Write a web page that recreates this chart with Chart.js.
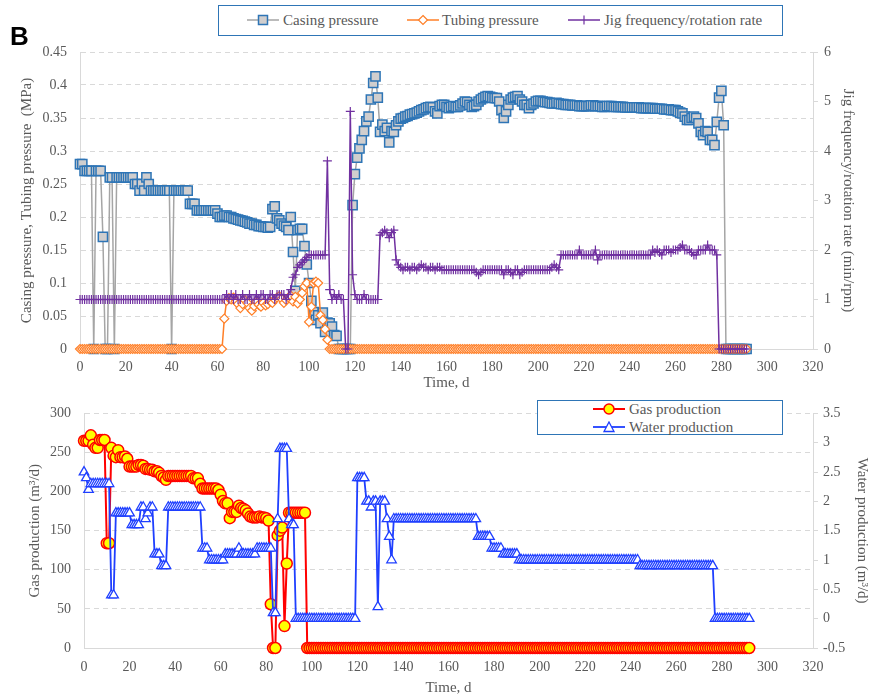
<!DOCTYPE html>
<html>
<head>
<meta charset="utf-8">
<script src="https://cdn.jsdelivr.net/npm/chart.js@4.4.0/dist/chart.umd.min.js"></script>
<style>
body{margin:0;background:#fff;width:875px;height:697px;position:relative;overflow:hidden;font-family:'Liberation Serif',serif;}
canvas{position:absolute;left:0;}
#topChart{top:0;}
#botChart{top:392px;}
.box{position:absolute;box-sizing:border-box;border:1.5px solid #2e75b6;background:#fff;}
.item{position:absolute;color:#595959;font-size:15px;line-height:16px;white-space:nowrap;}
.item svg{position:absolute;top:2px;}
#tag{position:absolute;left:10px;top:21px;font-family:'Liberation Sans',sans-serif;font-weight:bold;font-size:26px;color:#000;}
</style>
</head>
<body>
<canvas id="topChart" width="875" height="392"></canvas>
<canvas id="botChart" width="875" height="305"></canvas>
<div id="tag">B</div>

<div class="box" style="left:218px;top:5px;width:565px;height:31px;"></div>
<div class="item" style="left:247px;top:12px;padding-left:36px;">
  <svg width="32" height="12" style="left:0"><line x1="0" y1="6" x2="32" y2="6" stroke="#a5a5a5" stroke-width="1.5"/><rect x="11.5" y="1.5" width="9" height="9" fill="#d0cece" stroke="#2e75b6" stroke-width="1.5"/></svg>Casing pressure</div>
<div class="item" style="left:407px;top:12px;padding-left:35px;">
  <svg width="32" height="12" style="left:0"><line x1="0" y1="6" x2="32" y2="6" stroke="#ff7f27" stroke-width="1.5"/><polygon points="16,1.5 20.5,6 16,10.5 11.5,6" fill="#fff" stroke="#ff7f27" stroke-width="1.2"/></svg>Tubing pressure</div>
<div class="item" style="left:568px;top:12px;padding-left:36px;">
  <svg width="32" height="12" style="left:0"><line x1="0" y1="6" x2="32" y2="6" stroke="#7030a0" stroke-width="1.5"/><line x1="16" y1="1.5" x2="16" y2="10.5" stroke="#7030a0" stroke-width="1.2"/></svg>Jig frequency/rotation rate</div>

<div class="box" style="left:537px;top:400px;width:246px;height:35px;"></div>
<div class="item" style="left:593px;top:401px;padding-left:36px;">
  <svg width="32" height="12" style="left:0"><line x1="0" y1="6" x2="32" y2="6" stroke="#ff0000" stroke-width="2"/><circle cx="16" cy="6" r="5" fill="#ffff00" stroke="#ff0000" stroke-width="1.5"/></svg>Gas production</div>
<div class="item" style="left:593px;top:419px;padding-left:36px;">
  <svg width="32" height="12" style="left:0"><line x1="0" y1="6" x2="32" y2="6" stroke="#1f3fff" stroke-width="1.8"/><polygon points="16,1 21,10.5 11,10.5" fill="#fff" stroke="#1f3fff" stroke-width="1.3"/></svg>Water production</div>

<script>
// one value per day, starting at day 0
var casing = [
  0.28,0.28,0.27,0.27,0.27,0.27,0,0.27,0.27,0.27,
  0.17,0,0,0.26,0.26,0,0.26,0.26,0.26,0.26,
  0.26,0.26,0.26,0.26,0.25,0.25,0.24,0.25,0.24,0.26,
  0.25,0.24,0.24,0.24,0.24,0.24,0.24,0.24,0.24,0.24,
  0,0.24,0.24,0.24,0.24,0.24,0.24,0.24,0.22,0.22,
  0.22,0.21,0.21,0.21,0.21,0.21,0.21,0.21,0.21,0.21,
  0.205,0.2,0.2,0.202,0.202,0.2,0.2,0.198,0.197,0.196,
  0.195,0.194,0.193,0.192,0.19,0.19,0.188,0.188,0.186,0.186,
  0.185,0.185,0.184,0.185,0.212,0.216,0.198,0.195,0.19,0.187,
  0.185,0.18,0.2,0.147,0.088,0.18,0.182,0.182,0.156,0.128,
  0.1,0.073,0.056,0.044,0.051,0.039,0.055,0.026,0.04,0.039,
  0.034,0.021,0.02,0,0,0,0,0,0,0.218,
  0.265,0.29,0.304,0.317,0.33,0.345,0.352,0.378,0.403,0.413,
  0.381,0.329,0.34,0.33,0.335,0.313,0.33,0.329,0.339,0.345,
  0.349,0.35,0.352,0.353,0.355,0.356,0.357,0.358,0.36,0.362,
  0.363,0.365,0.366,0.367,0.366,0.36,0.357,0.368,0.37,0.37,
  0.367,0.365,0.367,0.368,0.367,0.367,0.369,0.372,0.375,0.374,
  0.37,0.367,0.368,0.37,0.375,0.378,0.38,0.382,0.383,0.382,
  0.381,0.38,0.38,0.375,0.362,0.35,0.36,0.37,0.378,0.381,
  0.382,0.383,0.378,0.375,0.37,0.37,0.365,0.37,0.372,0.375,
  0.376,0.376,0.375,0.374,0.374,0.373,0.372,0.372,0.373,0.372,
  0.371,0.371,0.37,0.37,0.37,0.369,0.369,0.369,0.368,0.368,
  0.368,0.368,0.368,0.369,0.369,0.368,0.368,0.368,0.367,0.367,
  0.368,0.368,0.368,0.367,0.367,0.367,0.367,0.367,0.366,0.366,
  0.366,0.366,0.366,0.366,0.366,0.365,0.365,0.365,0.365,0.365,
  0.365,0.364,0.364,0.364,0.364,0.363,0.363,0.363,0.362,0.362,
  0.362,0.36,0.358,0.357,0.352,0.347,0.347,0.35,0.352,0.35,
  0.342,0.329,0.324,0.33,0.329,0.317,0.317,0.309,0.344,0.381,
  0.391,0.339,0,0,0,0,0,0,0,0,
  0,0
];

var tubing = [
  0,0,0,0,0,0,0,0,0,0,
  0,0,0,0,0,0,0,0,0,0,
  0,0,0,0,0,0,0,0,0,0,
  0,0,0,0,0,0,0,0,0,0,
  0,0,0,0,0,0,0,0,0,0,
  0,0,0,0,0,0,0,0,0,0,
  0,0,0,0.046,0.073,0.077,0.075,0.078,0.072,0.068,
  0.062,0.068,0.074,0.07,0.062,0.058,0.065,0.072,0.067,0.064,
  0.07,0.066,0.068,0.072,0.07,0.075,0.078,0.08,0.076,0.07,
  0.074,0.078,0.081,0.072,0.079,0.069,0.075,0.085,0.095,0.1,
  0.041,0.064,0.1,0.102,0.1,0.051,0.044,0.03,0.014,0,
  0,0,0,0,0,0,0,0,0,0,
  0,0,0,0,0,0,0,0,0,0,
  0,0,0,0,0,0,0,0,0,0,
  0,0,0,0,0,0,0,0,0,0,
  0,0,0,0,0,0,0,0,0,0,
  0,0,0,0,0,0,0,0,0,0,
  0,0,0,0,0,0,0,0,0,0,
  0,0,0,0,0,0,0,0,0,0,
  0,0,0,0,0,0,0,0,0,0,
  0,0,0,0,0,0,0,0,0,0,
  0,0,0,0,0,0,0,0,0,0,
  0,0,0,0,0,0,0,0,0,0,
  0,0,0,0,0,0,0,0,0,0,
  0,0,0,0,0,0,0,0,0,0,
  0,0,0,0,0,0,0,0,0,0,
  0,0,0,0,0,0,0,0,0,0,
  0,0,0,0,0,0,0,0,0,0,
  0,0,0,0,0,0,0,0,0,0,
  0,0
];

var jig = [
  1,1,1,1,1,1,1,1,1,1,
  1,1,1,1,1,1,1,1,1,1,
  1,1,1,1,1,1,1,1,1,1,
  1,1,1,1,1,1,1,1,1,1,
  1,1,1,1,1,1,1,1,1,1,
  1,1,1,1,1,1,1,1,1,1,
  1,1,1,1,1.1,1,1.1,1,1.1,1,
  1,1.1,1,1,1.1,1,1,1.1,1,1.1,
  1.1,1,1,1.1,1.1,1,1.1,1.1,1.1,1.1,
  1,1.1,1.2,1.45,1.5,1.65,1.7,1.75,1.8,1.85,
  1.9,1.9,1.9,1.9,1.9,1.9,1.9,1.9,3.8,1.2,
  1,1.1,1,1.1,1,1,0,0,4.8,1.5,
  1.1,1,1,1,1.1,1,1,1,1,1,
  1,2.3,2.35,2.4,2.35,2.25,2.35,2.4,1.8,1.7,
  1.65,1.6,1.65,1.65,1.6,1.65,1.65,1.6,1.65,1.7,
  1.65,1.65,1.6,1.65,1.65,1.6,1.65,1.65,1.6,1.6,
  1.6,1.6,1.6,1.6,1.6,1.6,1.6,1.6,1.6,1.6,
  1.6,1.6,1.6,1.55,1.5,1.55,1.6,1.6,1.6,1.6,
  1.6,1.6,1.6,1.6,1.6,1.5,1.6,1.6,1.55,1.5,
  1.6,1.6,1.5,1.55,1.6,1.6,1.6,1.6,1.6,1.6,
  1.6,1.6,1.6,1.6,1.6,1.6,1.65,1.7,1.65,1.6,
  1.9,1.9,1.9,1.9,1.9,1.9,1.9,1.9,2,1.9,
  1.9,1.9,1.9,1.9,1.9,2,1.8,1.9,1.9,1.9,
  1.9,1.9,1.9,1.9,1.9,1.9,1.9,1.9,1.9,1.9,
  1.9,1.9,1.9,1.9,1.9,1.9,1.9,1.9,1.9,1.9,
  2,1.95,2,1.95,1.9,2,2,2,1.95,2,
  2,2,2.05,2.1,2,2,2,1.95,1.9,1.9,
  2,2,2,2,2.1,2,2,2,1.9,0,
  0,0,0,0,0,0,0,0,0,0,
  0,0
];

var gas = [
  265,265,265,272,260,256,256,266,266,266,
  134,134,256,246,244,253,244,244,245,242,
  232,232,232,232,234,234,233,229,229,228,
  228,226,226,224,220,218,215,220,220,220,
  220,220,220,220,220,220,220,220,217,217,
  217,210,204,204,204,204,204,204,204,202,
  196,188,185,185,166,174,174,174,182,179,
  178,176,172,168,167,167,167,168,167,167,
  166,163,56,0,0,144,150,154,28,108,
  173,173,173,173,173,173,173,173,0,0,
  0,0,0,0,0,0,0,0,0,0,
  0,0,0,0,0,0,0,0,0,0,
  0,0,0,0,0,0,0,0,0,0,
  0,0,0,0,0,0,0,0,0,0,
  0,0,0,0,0,0,0,0,0,0,
  0,0,0,0,0,0,0,0,0,0,
  0,0,0,0,0,0,0,0,0,0,
  0,0,0,0,0,0,0,0,0,0,
  0,0,0,0,0,0,0,0,0,0,
  0,0,0,0,0,0,0,0,0,0,
  0,0,0,0,0,0,0,0,0,0,
  0,0,0,0,0,0,0,0,0,0,
  0,0,0,0,0,0,0,0,0,0,
  0,0,0,0,0,0,0,0,0,0,
  0,0,0,0,0,0,0,0,0,0,
  0,0,0,0,0,0,0,0,0,0,
  0,0,0,0,0,0,0,0,0,0,
  0,0,0,0,0,0,0,0,0,0,
  0,0,0,0,0,0,0,0,0,0,
  0,0,0
];

var water = [
  2.5,2.4,2.2,2.3,2.3,2.3,2.3,2.3,2.3,2.3,
  2.3,2.3,0.4,0.4,1.8,1.8,1.8,1.8,1.8,1.8,
  1.8,1.6,1.6,1.6,1.6,1.9,1.9,1.7,1.8,1.9,
  1.9,1.1,1.1,1.1,0.9,0.9,0.9,1.9,1.9,1.9,
  1.9,1.9,1.9,1.9,1.9,1.9,1.9,1.9,1.9,1.9,
  1.9,1.9,1.2,1.2,1.2,1,1,1,1,1,
  1,1,1.1,1.1,1.1,1.1,1.1,1.1,1.2,1.1,
  1.1,1.1,1.1,1.1,1.1,1.1,1.2,1.2,1.2,1.2,
  1.2,1.2,1.2,0.1,0.1,1.7,2.9,2.9,2.9,2.9,
  1.7,1.6,1.6,0,0,0,0,0,0,0,
  0,0,0,0,0,0,0,0,0,0,
  0,0,0,0,0,0,0,0,0,0,
  2.4,2.4,2.4,2.4,2,2,1.9,2,2,0.2,
  2,2,2,1.7,1.4,1,1.7,1.7,1.7,1.7,
  1.7,1.7,1.7,1.7,1.7,1.7,1.7,1.7,1.7,1.7,
  1.7,1.7,1.7,1.7,1.7,1.7,1.7,1.7,1.7,1.7,
  1.7,1.7,1.7,1.7,1.7,1.7,1.7,1.7,1.7,1.7,
  1.7,1.7,1.7,1.4,1.4,1.4,1.4,1.4,1.4,1.2,
  1.2,1.2,1.2,1.2,1.1,1.1,1.1,1.1,1.1,1.1,
  1.1,1,1,1,1,1,1,1,1,1,
  1,1,1,1,1,1,1,1,1,1,
  1,1,1,1,1,1,1,1,1,1,
  1,1,1,1,1,1,1,1,1,1,
  1,1,1,1,1,1,1,1,1,1,
  1,1,1,1,0.9,0.9,0.9,0.9,0.9,0.9,
  0.9,0.9,0.9,0.9,0.9,0.9,0.9,0.9,0.9,0.9,
  0.9,0.9,0.9,0.9,0.9,0.9,0.9,0.9,0.9,0.9,
  0.9,0.9,0.9,0.9,0.9,0.9,0.9,0,0,0,
  0,0,0,0,0,0,0,0,0,0,
  0,0,0
];

var xTicks = {min: 0, max: 320, step: 20};
var tickColor = '#595959';
var lineGray = '#d9d9d9';
var serif = 'Liberation Serif';

// turn a per-day array into {x, y} points
function byDay(arr) {
	return arr.map(function(v, i) { return {x: i, y: v}; });
}

// plain number labels like Excel: 0.4 not 0.40
function plain(v) {
	return String(Math.round(v * 1000) / 1000);
}

function xAxis(h, pad, titlePad) {
	return {
		type: 'linear', min: xTicks.min, max: xTicks.max,
		ticks: {stepSize: xTicks.step, color: tickColor, padding: pad, font: {family: serif, size: 14}, callback: plain},
		grid: {display: false},
		border: {color: lineGray, width: 1},
		title: {display: true, text: 'Time, d', color: tickColor, font: {family: serif, size: 15}, padding: {top: 0, bottom: titlePad}},
		afterFit: function(s) { s.height = h; }
	};
}

// top chart: pressures + jig frequency
new Chart(document.getElementById('topChart'), {
	type: 'line',
	data: {
		datasets: [
			{label: 'Jig frequency/rotation rate', data: byDay(jig), yAxisID: 'y1', order: 1,
			 borderColor: '#7030a0', borderWidth: 1.5, pointStyle: 'cross', pointRadius: 4.5,
			 pointBorderColor: '#7030a0', pointBorderWidth: 1.2, clip: false},
			{label: 'Tubing pressure', data: byDay(tubing), yAxisID: 'y', order: 2,
			 borderColor: '#ff7f27', borderWidth: 1.5, pointStyle: 'rectRot', pointRadius: 4.5,
			 pointBackgroundColor: '#ffffff', pointBorderColor: '#ff7f27', pointBorderWidth: 1.2, clip: false},
			{label: 'Casing pressure', data: byDay(casing), yAxisID: 'y', order: 3,
			 borderColor: '#a5a5a5', borderWidth: 1.5, pointStyle: 'rect', pointRadius: 6.5,
			 pointBackgroundColor: '#d0cece', pointBorderColor: '#2e75b6', pointBorderWidth: 1.5, clip: false}
		]
	},
	options: {
		responsive: false, animation: false, events: [],
		layout: {padding: {left: 0, right: 0, top: 52, bottom: 0}},
		plugins: {legend: {display: false}, tooltip: {enabled: false}},
		scales: {
			x: xAxis(43, 2, 0),
			y: {
				position: 'left', min: 0, max: 0.45,
				ticks: {stepSize: 0.05, color: tickColor, padding: 13, font: {family: serif, size: 14}, callback: plain},
				grid: {color: lineGray, drawTicks: false},
				border: {color: lineGray, dash: [5, 4]},
				title: {display: true, text: 'Casing pressure, Tubing pressure  (MPa)', color: tickColor,
				        font: {family: serif, size: 15}, padding: {top: 18, bottom: 0}},
				afterFit: function(s) { s.width = 80; }
			},
			y1: {
				position: 'right', min: 0, max: 6,
				ticks: {stepSize: 1, color: tickColor, padding: 6, font: {family: serif, size: 14}, callback: plain},
				grid: {drawOnChartArea: false, drawTicks: true, tickLength: 5, color: lineGray},
				border: {color: lineGray},
				title: {display: true, text: 'Jig frequency/rotation rate (min/rpm)', color: tickColor,
				        font: {family: serif, size: 15}, padding: {top: 18, bottom: 0}},
				afterFit: function(s) { s.width = 62; }
			}
		}
	}
});

// bottom chart: gas and water production
new Chart(document.getElementById('botChart'), {
	type: 'line',
	data: {
		datasets: [
			{label: 'Water production', data: byDay(water), yAxisID: 'y1', order: 1,
			 borderColor: '#1f3fff', borderWidth: 1.8, pointStyle: 'triangle', pointRadius: 5.5,
			 pointBackgroundColor: '#ffffff', pointBorderColor: '#1f3fff', pointBorderWidth: 1.3, clip: false},
			{label: 'Gas production', data: byDay(gas), yAxisID: 'y', order: 2,
			 borderColor: '#ff0000', borderWidth: 2, pointStyle: 'circle', pointRadius: 5.5,
			 pointBackgroundColor: '#ffff00', pointBorderColor: '#ff0000', pointBorderWidth: 1.5, clip: false}
		]
	},
	options: {
		responsive: false, animation: false, events: [],
		layout: {padding: {left: 0, right: 0, top: 7, bottom: 0}},
		plugins: {legend: {display: false}, tooltip: {enabled: false}},
		scales: {
			x: xAxis(49, 3, 0),
			y: {
				position: 'left', min: 0, max: 300,
				ticks: {stepSize: 50, color: tickColor, padding: 13, font: {family: serif, size: 14}, callback: plain},
				grid: {color: lineGray, drawTicks: false},
				border: {color: lineGray, dash: [5, 4]},
				title: {display: true, text: 'Gas production (m³/d)', color: tickColor,
				        font: {family: serif, size: 15}, padding: {top: 26, bottom: 0}},
				afterFit: function(s) { s.width = 84; }
			},
			y1: {
				position: 'right', min: -0.5, max: 3.5,
				ticks: {stepSize: 0.5, color: tickColor, padding: 5, font: {family: serif, size: 14}, callback: plain},
				grid: {drawOnChartArea: false, drawTicks: true, tickLength: 5, color: lineGray},
				border: {color: lineGray},
				title: {display: true, text: 'Water production (m³/d)', color: tickColor,
				        font: {family: serif, size: 15}, padding: {top: 4, bottom: 0}},
				afterFit: function(s) { s.width = 62; }
			}
		}
	}
});
</script>
</body>
</html>
